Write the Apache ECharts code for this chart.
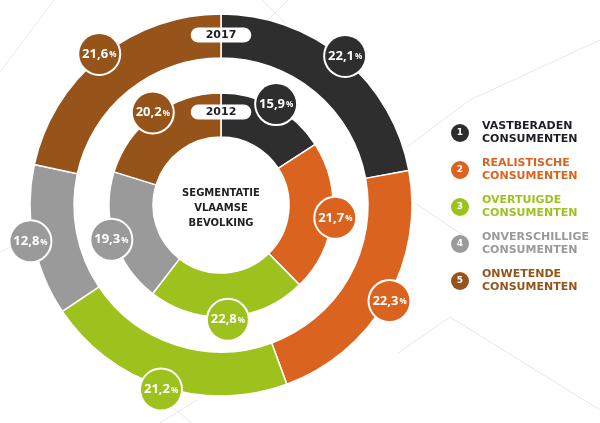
<!DOCTYPE html>
<html>
<head>
<meta charset="utf-8">
<script src="https://cdn.jsdelivr.net/npm/echarts@6/dist/echarts.min.js"></script>
<style>html,body{margin:0;padding:0;background:#fff}#c{width:600px;height:423px}</style>
</head>
<body>
<div id="c"></div>
<script>
const categories = ['VASTBERADEN', 'REALISTISCHE', 'OVERTUIGDE', 'ONVERSCHILLIGE', 'ONWETENDE'];
const subLabel = 'CONSUMENTEN';
const values2017 = [22.1, 22.3, 21.2, 12.8, 21.6];
const values2012 = [15.9, 21.7, 22.8, 19.3, 20.2];
const years = ['2017', '2012'];
const centerTitle = 'SEGMENTATIE\nVLAAMSE\nBEVOLKING';
const colors = ['#2e2e2e', '#db6320', '#9ec21d', '#9a9a9a', '#97541a'];
const legendText = ['#1d1d2b', '#db6320', '#9ec21d', '#9a9a9a', '#97541a'];

const CX = 221, CY = 205;
const OUTER = [147, 191], INNER = [68, 112];
const fmt = v => v.toFixed(1).replace('.', ',');

function ring(values, radius) {
  return {
    type: 'pie', center: [CX, CY], radius: radius, startAngle: 90, clockwise: true,
    silent: true, animation: false, label: { show: false }, labelLine: { show: false },
    itemStyle: { borderColor: '#fff', borderWidth: 1.5 },
    data: values.map((v, i) => ({ name: categories[i], value: v, itemStyle: { color: colors[i] } }))
  };
}
function bubbles(values, edge) {
  return {
    type: 'pie', center: [CX, CY], radius: [edge - 20, edge + 20], startAngle: 90, clockwise: true,
    silent: true, animation: false, labelLine: { show: false },
    itemStyle: { color: 'rgba(0,0,0,0)', borderWidth: 0 },
    data: values.map((v, i) => ({
      name: categories[i], value: v,
      label: {
        show: true, position: 'inside', rotate: 0,
        formatter: p => '{v|' + fmt(p.value) + '}{p|%}',
        backgroundColor: colors[i], borderColor: '#fff', borderWidth: 2,
        borderRadius: 22, width: 40, height: 40, lineHeight: 40, padding: 0,
        align: 'center', verticalAlign: 'middle',
        rich: {
          v: { color: '#fff', fontSize: 13, fontWeight: 'bold', fontFamily: 'Open Sans', lineHeight: 40 },
          p: { color: '#fff', fontSize: 8, fontWeight: 'bold', fontFamily: 'Open Sans', lineHeight: 40, padding: [2, 0, 0, 1] }
        }
      }
    }))
  };
}

const bgLines = [
  [262, 0, 286, 24], [288, 0, 262, 26], [54, 0, 0, 72], [407, 147, 470, 100], [470, 100, 600, 40],
  [415, 203, 470, 240], [450, 317, 398, 353], [450, 317, 600, 410], [197, 400, 160, 423], [168, 404, 192, 423],
  [0, 252, 30, 238]
];
const graphics = bgLines.map(l => ({
  type: 'line', silent: true, z: -10,
  shape: { x1: l[0], y1: l[1], x2: l[2], y2: l[3] },
  style: { stroke: '#e8e8e8', lineWidth: 1 }
}));

// year pills
const pillY = [CY - (OUTER[0] + OUTER[1]) / 2 - 1, CY - (INNER[0] + INNER[1]) / 2 - 3];
years.forEach((y, i) => {
  graphics.push({
    type: 'text', z: 100, x: CX, y: pillY[i],
    style: {
      text: y, fill: '#1d1d2b', font: 'bold 11px "DejaVu Sans"',
      align: 'center', verticalAlign: 'middle',
      backgroundColor: '#fff', borderRadius: 8, padding: [2, 15, 2, 15]
    }
  });
});
// center title
graphics.push({
  type: 'text', z: 100, x: CX, y: 208,
  style: {
    text: centerTitle, fill: '#222', font: 'bold 10px "DejaVu Sans"', lineHeight: 15,
    align: 'center', verticalAlign: 'middle'
  }
});
// legend
categories.forEach((c, i) => {
  const y = 133 + i * 37;
  graphics.push({ type: 'circle', shape: { cx: 460, cy: y, r: 9 }, style: { fill: colors[i] } });
  graphics.push({
    type: 'text', x: 460, y: y,
    style: { text: String(i + 1), fill: '#fff', font: 'bold 9px "DejaVu Sans"', align: 'center', verticalAlign: 'middle' }
  });
  graphics.push({
    type: 'text', x: 482, y: y,
    style: { text: c + '\n' + subLabel, fill: legendText[i], font: 'bold 11px "DejaVu Sans"', lineHeight: 13, align: 'left', verticalAlign: 'middle' }
  });
});

const chart = echarts.init(document.getElementById('c'), null, { renderer: 'canvas' });
chart.setOption({
  animation: false,
  backgroundColor: '#fff',
  series: [ring(values2017, OUTER), ring(values2012, INNER), bubbles(values2017, OUTER[1]), bubbles(values2012, INNER[1])],
  graphic: graphics
});
</script>
</body>
</html>
